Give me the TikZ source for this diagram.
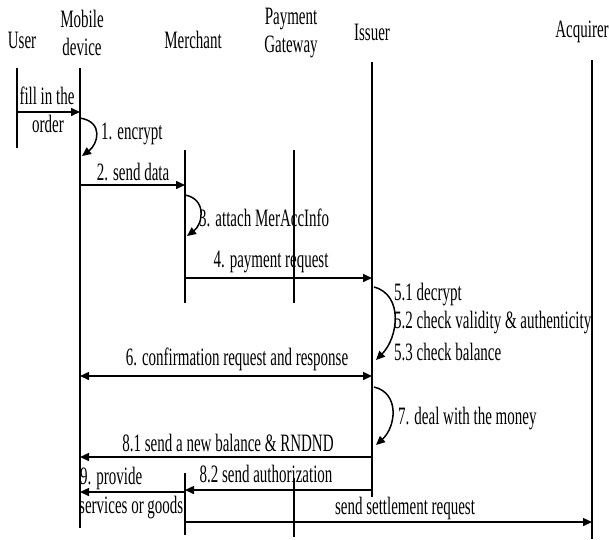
\documentclass[tikz,border=0pt]{standalone}
\usepackage{fontspec}
\setmainfont{Liberation Serif}[FakeStretch=0.6]
\usetikzlibrary{arrows.meta}
\tikzset{
  life/.style={line width=1.5pt},
  msg/.style={line width=1.5pt,-{Triangle[length=9pt,width=8pt]}},
  dmsg/.style={line width=1.5pt,{Triangle[length=9pt,width=8pt]}-{Triangle[length=9pt,width=8pt]}},
  lbl/.style={inner sep=0pt,font=\fontsize{25}{28}\selectfont,align=center},
  lbll/.style={lbl,anchor=west,align=left},
}
\begin{document}
\begin{tikzpicture}[x=1pt,y=-1pt]
\useasboundingbox (0,0) rectangle (609,539);
% participants
\node[lbl] (hU) at (22,40) {User};
\node[lbl] (hM) at (82,33) {Mobile\\device};
\node[lbl] (hMe) at (193,40) {Merchant};
\node[lbl] (hP) at (291,33) {Payment\\Gateway};
\node[lbl] (hI) at (372,32) {Issuer};
\node[lbl] (hA) at (582,32) {Acquirer};
% lifelines
\coordinate (uT) at (17,68);   \coordinate (uB) at (17,148);
\coordinate (mT) at (80,68);   \coordinate (mB) at (80,528);
\coordinate (meT) at (185,150); \coordinate (meB) at (185,303);
\coordinate (meT2) at (185,473); \coordinate (meB2) at (185,535);
\coordinate (pT) at (294,150); \coordinate (pB) at (294,303);
\coordinate (pT2) at (294,478); \coordinate (pB2) at (294,537);
\coordinate (iT) at (372,62);  \coordinate (iB) at (372,497);
\coordinate (aT) at (592,60);  \coordinate (aB) at (592,539);
\draw[life] (uT) -- (uB);
\draw[life] (mT) -- (mB);
\draw[life] (meT) -- (meB);
\draw[life] (meT2) -- (meB2);
\draw[life] (pT) -- (pB);
\draw[life] (pT2) -- (pB2);
\draw[life] (iT) -- (iB);
\draw[life] (aT) -- (aB);
% fill in the order
\coordinate (f0) at (17,112); \coordinate (f1) at (80,112);
\draw[msg] (f0) -- (f1);
\node[lbl] (tf1) at (47,96) {fill in the};
\node[lbl] (tf2) at (48,124) {order};
% 1. encrypt
\coordinate (e0) at (80,118); \coordinate (e1) at (82,156);
\draw[msg] (e0) .. controls +(24,4) and +(16,-12) .. (e1);
\node[lbll] (te) at (101,134) {1. encrypt};
% 2. send data
\coordinate (s0) at (80,185); \coordinate (s1) at (185,185);
\draw[msg] (s0) -- (s1);
\node[lbl] (ts) at (133,172) {2. send data};
% 3. attach
\coordinate (c0) at (185,195); \coordinate (c1) at (187,236);
\draw[msg] (c0) .. controls +(22,4) and +(16,-12) .. (c1);
\node[lbll] (tc) at (199,218) {3. attach MerAccInfo};
% 4. payment request
\coordinate (r0) at (185,278); \coordinate (r1) at (372,278);
\draw[msg] (r0) -- (r1);
\node[lbl] (tr) at (271,262) {4. payment request};
% 5.x issuer checks
\coordinate (k0) at (374,287); \coordinate (k1) at (376,360);
\draw[msg] (k0) .. controls +(30,8) and +(22,-22) .. (k1);
\node[lbll] (tk1) at (394,295) {5.1 decrypt};
\node[lbll] (tk2) at (394,323) {5.2 check validity \& authenticity};
\node[lbll] (tk3) at (394,352) {5.3 check balance};
% 6. confirmation
\coordinate (q0) at (80,376); \coordinate (q1) at (372,376);
\draw[dmsg] (q0) -- (q1);
\node[lbl] (tq) at (237,359) {6. confirmation request and response};
% 7. deal with the money
\coordinate (d0) at (374,387); \coordinate (d1) at (376,445);
\draw[msg] (d0) .. controls +(26,6) and +(20,-18) .. (d1);
\node[lbll] (td) at (398,419) {7. deal with the money};
% 8.1 new balance
\coordinate (b0) at (372,457); \coordinate (b1) at (80,457);
\draw[msg] (b0) -- (b1);
\node[lbl] (tb) at (228,443) {8.1 send a new balance \& RNDND};
% 8.2 authorization
\coordinate (z0) at (372,490); \coordinate (z1) at (185,490);
\draw[msg] (z0) -- (z1);
\node[lbl] (tz) at (266,474) {8.2 send authorization};
% 9. provide services
\coordinate (g0) at (185,492); \coordinate (g1) at (80,492);
\draw[msg] (g0) -- (g1);
\node[lbll] (tg1) at (80,478) {9. provide};
\node[lbll] (tg2) at (79,508) {services or goods};
% settlement
\coordinate (t0) at (185,522); \coordinate (t1) at (592,522);
\draw[msg] (t0) -- (t1);
\node[lbl] (tt) at (405,508) {send settlement request};
\end{tikzpicture}
\end{document}
